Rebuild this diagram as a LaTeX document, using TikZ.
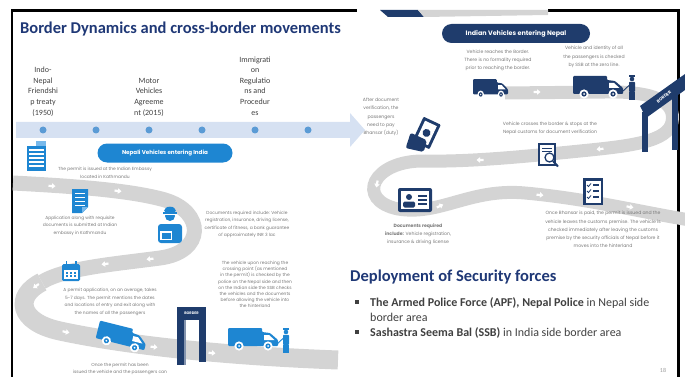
\documentclass[tikz,border=0pt]{standalone}
\usepackage{fontspec}
\setmainfont{Carlito}
\newfontfamily\pop{Poppins}
\usetikzlibrary{positioning}

\definecolor{titleblue}{RGB}{31,56,118}
\definecolor{bandblue}{RGB}{214,225,242}
\definecolor{dotblue}{RGB}{91,155,213}
\definecolor{vblue}{RGB}{30,134,210}
\definecolor{lblue}{RGB}{120,185,235}
\definecolor{navy}{RGB}{31,60,108}
\definecolor{roadgray}{RGB}{212,212,212}
\definecolor{infotext}{RGB}{120,120,120}
\definecolor{bodytext}{RGB}{64,64,64}

\tikzset{
  tdot/.style={circle, fill=dotblue, minimum size=7pt, inner sep=0pt},
  tlabel/.style={align=center, inner sep=0pt, text depth=0pt, text=bodytext,
    font=\fontsize{8}{10.6}\selectfont},
  pill/.style={rounded corners=9.5pt, minimum height=19pt, text=white,
    font=\pop\bfseries\fontsize{5.6}{6}\selectfont},
  info/.style={align=center, inner sep=0pt, text=infotext,
    font=\pop\fontsize{4.4}{7.4}\selectfont},
  bsq/.style={fill=bodytext, minimum size=3.6pt, inner sep=0pt},
  btext/.style={align=left, inner sep=0pt, text=bodytext,
    font=\fontsize{12}{15}\selectfont},
  road/.style={draw=roadgray, line width=#1},
  pics/chev/.style={code={
    \fill[white] (-3.5,-1.1) -- (0,-1.1) -- (0,-2.8) -- (3.5,0) -- (0,2.8) -- (0,1.1) -- (-3.5,1.1) -- cycle;}},
  pics/truck/.style={code={
    \fill[#1, rounded corners=1] (0,-3) -- (0,-21) -- (34,-21) -- (34,-17) -- (42,-16) -- (50,-9) -- (50,-3) -- cycle;
    \fill[white] (36,-14) -- (41,-14) -- (46.5,-9) -- (36,-9) -- cycle;
    \foreach \w in {11,40} {
      \fill[white] (\w,-3) circle (4.6);
      \fill[#1] (\w,-3) circle (2.6);
      \fill[white] (\w,-3) circle (1);}
  }},
  pics/guard/.style={code={
    \fill[#1] (0,-21) circle (2.3);
    \fill[#1] (-2.8,-23) rectangle (2.8,-24.6);
    \fill[#1, rounded corners=0.8] (-3,-18.2) rectangle (3,-8);
    \fill[#1] (-2.6,-8) rectangle (-0.4,0);
    \fill[#1] (0.4,-8) rectangle (2.6,0);
    \draw[#1, line width=0.9pt] (-2.5,-15) -- (-10,-8);
  }},
}

\begin{document}
\begin{tikzpicture}[x=1pt, y=-1pt]
\useasboundingbox (0,0) rectangle (685,377);

% slide frame
\draw[line width=2.6pt] (12,377) -- (12,10.5) -- (678.5,10.5) -- (678.5,377);

% ---------------- Nepali vehicles entering India ----------------

% road
\draw[road=15pt] (13,183) .. controls (70,186) and (130,190) .. (165,200)
  .. controls (205,212) and (205,252) .. (160,258)
  .. controls (115,264) and (65,268) .. (42,282);
\draw[road=19pt] (42,282) .. controls (14,296) and (18,322) .. (60,331)
  .. controls (130,346) and (230,356) .. (338,360);
\foreach \px/\py/\r in {52/186/-3, 118/191/-8, 150/259/186, 105/264/188,
                        36/286/215, 66/332/-12, 154/347/-6, 212/353/-4}
  \pic[rotate=\r] at (\px,\py) {chev};

% embassy
\fill[vblue] (27,146) rectangle (46,171);
\fill[lblue] (36,141) rectangle (46,146);
\foreach \yy in {149,153,...,167}
  \fill[white] (29,\yy) rectangle (44,\yy+1.6);
\node[info] (embassy) at (105,173) {The permit is issued at the Indian Embassy\\located in Kathmandu};

% application
\fill[vblue] (72,189) -- (88,189) -- (88,207) -- (82,213) -- (72,213) -- cycle;
\fill[lblue] (82,213) -- (82,207) -- (88,207) -- cycle;
\foreach \yy in {193,197,201,205}
  \fill[white] (75,\yy) rectangle (85,\yy+1.4);
\node[info] (applic) at (80,225.5) {Application along with requisite\\documents is submitted at Indian\\embassy in Kathmandu};

% officer
\fill[vblue] (170,216) circle (5);
\fill[vblue] (170,210.5) ellipse (5.8 and 3.8);
\fill[vblue] (163,212) rectangle (177,213.5);
\fill[white] (165,214) rectangle (175,215);
\fill[vblue, rounded corners=3] (158,243) rectangle (182,224);
\fill[white] (160,231) rectangle (172,240);
\fill[vblue] (161.5,232.5) rectangle (170.5,238.5);
\node[info] (docs) at (247,224.5) {Documents required include: Vehicle\\registration, insurance, driving license,\\certificate of fitness, a bank guarantee\\of approximately INR 3 lac};

% calendar
\fill[vblue, rounded corners=1.5] (62,264) rectangle (80,281);
\fill[white] (64,270) rectangle (78,279);
\foreach \cx in {67,71,75}
  \foreach \cy in {272.8,276.3}
    \fill[vblue] (\cx-1.2,\cy-1.1) rectangle (\cx+1.2,\cy+1.1);
\fill[vblue] (65.5,261) rectangle (67.3,266);
\fill[vblue] (74.7,261) rectangle (76.5,266);
\node[info] (days) at (110,302) {A permit application, on an average, takes\\5-7 days. The permit mentions the dates\\and locations of entry and exit along with\\the names of all the passengers};

% crossing the border
\pic[rotate=-14] at (95,341) {truck=vblue};
\fill[navy] (177,307) rectangle (206,320);
\fill[navy] (177,320) rectangle (184,365);
\fill[navy] (199,320) rectangle (206,362);
\fill[navy!55] (184,320) rectangle (186,365);
\node[inner sep=0pt, text=white, font=\pop\bfseries\fontsize{3.6}{4}\selectfont] (borderl) at (191.5,313.5) {BORDER};
\node[info] (once) at (120,369) {Once the permit has been\\issued the vehicle and the passengers can};
\node[info, font=\pop\fontsize{4.4}{6.2}\selectfont] (upon) at (255,284.5) {The vehicle upon reaching the\\crossing point (as mentioned\\in the permit) is checked by the\\police on the Nepal side and then\\on the Indian side the SSB checks\\the vehicles and the documents\\before allowing the vehicle into\\the hinterland};
\pic at (228,349) {truck=vblue};
\pic at (286,353) {guard=vblue};

\node[pill, fill=vblue, minimum width=135pt] (nepali) at (165,153) {Nepali Vehicles entering India};

% ---------------- Indian vehicles entering Nepal ----------------

\fill[white] (357,7) rectangle (548,13.5);
\fill[navy] (380,10) -- (418,10) -- (424,17) -- (388,17) -- cycle;
\fill[roadgray] (418,10) -- (548,10) -- (548,15) -- (424,17) -- cycle;

% road
\draw[road=13pt] (505,93) -- (605,92) .. controls (655,91) and (676,102) .. (672,122)
  .. controls (668,142) and (630,146) .. (580,151)
  .. controls (530,156) and (470,162) .. (425,161)
  .. controls (372,160) and (355,200) .. (398,209)
  .. controls (440,216) and (470,188) .. (525,193)
  .. controls (590,199) and (640,212) .. (690,220);
\foreach \px/\py/\r in {537/92/0, 600/149/184, 480/160/180, 377/184/260,
                        440/206/25, 540/195/-5, 630/207/-10}
  \pic[rotate=\r] at (\px,\py) {chev};

\node[pill, fill=navy, minimum width=148pt, font=\pop\bfseries\fontsize{6.4}{7}\selectfont] (indian) at (516,33.5) {Indian Vehicles entering Nepal};

\node[info, font=\pop\fontsize{4.6}{8.2}\selectfont] (reach) at (498,60.5) {Vehicle reaches the Border.\\There is no formality required\\prior to reaching the border.};
\node[info, font=\pop\fontsize{4.6}{8.2}\selectfont] (zero) at (594,57) {Vehicle and identity of all\\the passengers is checked\\by SSB at the zero line.};
\pic[xscale=0.7, yscale=0.85] at (473,97) {truck=navy};
\pic at (573,97) {truck=navy};
\pic at (632,100) {guard=navy};

% border gate
\fill[navy] (642,112) rectangle (648,152);
\fill[navy] (672,92) rectangle (678,150);
\fill[navy] (640,106) -- (685,74) -- (685,90) -- (646,118) -- cycle;
\node[inner sep=0pt, rotate=36, text=white, font=\pop\bfseries\fontsize{4.2}{5}\selectfont] (borderr) at (664,97) {BORDER};

% duty
\node[info, font=\pop\fontsize{4.6}{8.2}\selectfont] (duty) at (381,117) {After document\\verification, the\\passengers\\need to pay\\Bhansar (duty)};
\begin{scope}[rotate around={-25:(425,135)}]
  \fill[navy, rounded corners=1] (416,119) rectangle (435,146);
  \fill[white] (419,122) rectangle (432,143);
  \fill[navy] (425.5,132.5) circle (4);
  \fill[navy, rounded corners=2] (411,139) -- (429,139) -- (431,151) -- (413,155) -- cycle;
\end{scope}

% customs
\node[info, font=\pop\fontsize{4.6}{8.2}\selectfont] (customs) at (550,128.5) {Vehicle crosses the border \& stops at the\\Nepal customs for document verification};
\draw[navy, line width=1.2pt, fill=white] (539,144) rectangle (555,165);
\foreach \yy in {148,151.5}
  \draw[navy, line width=0.8pt] (542,\yy) -- (552,\yy);
\draw[navy, line width=2pt] (553,161) -- (558,166.5);
\draw[navy, line width=1.3pt, fill=white] (549.5,157.5) circle (4.5);

% documents
\fill[navy, rounded corners=2] (398,188) rectangle (432,212);
\fill[white] (401,191) rectangle (429,209);
\fill[navy] (409,197) circle (3);
\fill[navy, rounded corners=1.5] (403,207.5) rectangle (415,201.5);
\foreach \yy in {195,199,203}
  \fill[navy] (418,\yy) rectangle (427,\yy+1.8);
\node[info, font=\pop\fontsize{4.6}{8}\selectfont] (docsr) at (418,234) {\textbf{Documents required}\\\textbf{include:} Vehicle registration,\\insurance \& driving license};

% checklist
\fill[navy] (583,178) rectangle (603,205);
\fill[white] (585.5,180.5) rectangle (600.5,202.5);
\foreach \yy in {185,191,197} {
  \draw[navy, line width=0.8pt] (587,\yy) -- (588.5,\yy+1.5) -- (591,\yy-1.5);
  \fill[navy] (593,\yy-0.8) rectangle (599,\yy+0.8);}
\node[info, font=\pop\fontsize{4.6}{8.2}\selectfont] (bhansar) at (603,229.5) {Once Bhansar is paid, the permit is issued and the\\vehicle leaves the customs premise. The vehicle is\\checked immediately after leaving the customs\\premise by the security officials of Nepal before it\\moves into the hinterland};

% ---------------- timeline ----------------

\node[anchor=base west, inner sep=0pt, text=titleblue, font=\fontsize{16.5}{19}\selectfont\bfseries] (title) at (20,33.5) {Border Dynamics and cross-border movements};

\fill[bandblue] (16,122) -- (350,122) -- (350,113) -- (365,130) -- (350,147) -- (350,138) -- (16,138) -- cycle;
\foreach \i/\x in {1/43,2/96,3/149,4/202,5/255,6/308}
  \node[tdot] (d\i) at (\x,130) {};
\node[tlabel, above=11pt of d1] (treaty) {Indo-\\Nepal\\Friendshi\\p treaty\\(1950)};
\node[tlabel, above=11pt of d3] (mva) {Motor\\Vehicles\\Agreeme\\nt (2015)};
\node[tlabel, above=11pt of d5] (immig) {Immigrati\\on\\Regulatio\\ns and\\Procedur\\es};

% ---------------- security forces ----------------

\node[anchor=base west, inner sep=0pt, text=titleblue, font=\fontsize{16.5}{19}\selectfont\bfseries] (deploy) at (350,281) {Deployment of Security forces};
\node[bsq] (b1) at (357,302) {};
\node[btext, anchor=north west] (apf) at (370,297) {\textbf{The Armed Police Force (APF), Nepal Police} in Nepal side\\border area};
\node[bsq] (b2) at (357,332) {};
\node[btext, anchor=north west] (ssb) at (370,327) {\textbf{Sashastra Seema Bal (SSB)} in India side border area};

\node[inner sep=0pt, text=black!40, font=\fontsize{6}{7}\selectfont] (page) at (663,370) {18};

\end{tikzpicture}
\end{document}
